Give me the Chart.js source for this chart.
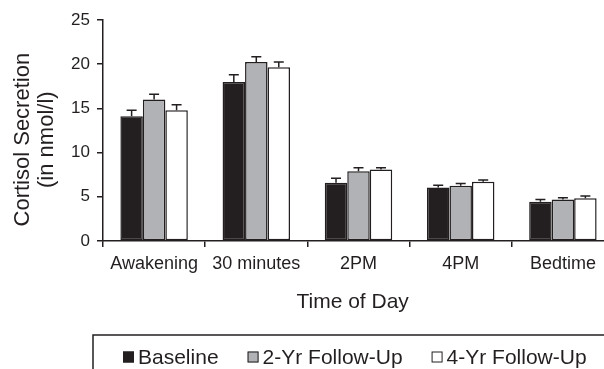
<!DOCTYPE html>
<html>
<head>
<meta charset="utf-8">
<script src="https://cdn.jsdelivr.net/npm/chart.js@4/dist/chart.umd.min.js"></script>
<style>
  html, body { margin: 0; padding: 0; background: #fff; overflow: hidden; }
  #wrap { position: relative; width: 625px; height: 369px; }
</style>
</head>
<body>
<div id="wrap"><canvas id="myChart"></canvas></div>
<script>
const categories = ["Awakening", "30 minutes", "2PM", "4PM", "Bedtime"];
const seriesNames = ["Baseline", "2-Yr Follow-Up", "4-Yr Follow-Up"];
const baseline = [14.1, 18.0, 6.6, 6.05, 4.45];
const followUp2 = [16.0, 20.25, 7.9, 6.25, 4.7];
const followUp4 = [14.8, 19.65, 8.1, 6.7, 4.85];
// upper error bar lengths
const baselineErr = [0.7, 0.8, 0.5, 0.25, 0.25];
const followUp2Err = [0.6, 0.6, 0.4, 0.25, 0.2];
const followUp4Err = [0.6, 0.6, 0.2, 0.2, 0.25];
const yTicks = [0, 5, 10, 15, 20, 25];

const ink = "#231f20";
const fills = [ink, "#b1b2b5", "#ffffff"];
const errs = [baselineErr, followUp2Err, followUp4Err];

const errorBars = {
  id: "errorBars",
  afterDatasetsDraw: (chart) => {
    const ctx = chart.ctx;
    const y = chart.scales.y;
    ctx.save();
    ctx.strokeStyle = ink;
    ctx.lineWidth = 1.5;
    chart.data.datasets.forEach((ds, i) => {
      const meta = chart.getDatasetMeta(i);
      meta.data.forEach((bar, j) => {
        const top = y.getPixelForValue(ds.data[j] + errs[i][j]);
        ctx.beginPath();
        ctx.moveTo(bar.x, bar.y);
        ctx.lineTo(bar.x, top);
        ctx.moveTo(bar.x - 5, top);
        ctx.lineTo(bar.x + 5, top);
        ctx.stroke();
      });
    });
    ctx.restore();
  }
};

// legend drawn in a box under the axis title
const boxLegend = {
  id: "boxLegend",
  afterDraw: (chart) => {
    const ctx = chart.ctx;
    const area = chart.chartArea;
    const boxTop = area.bottom + 94;
    ctx.save();
    ctx.strokeStyle = ink;
    ctx.lineWidth = 1.5;
    ctx.strokeRect(area.left - 10, boxTop, 800, 200);
    ctx.font = "21px 'Liberation Sans', Arial, sans-serif";
    ctx.textBaseline = "middle";
    ctx.fillStyle = ink;
    let x = area.left + 20;
    const cy = boxTop + 22;
    chart.data.datasets.forEach((ds, i) => {
      ctx.fillStyle = fills[i];
      ctx.fillRect(x, cy - 5.5, 11, 11);
      ctx.lineWidth = 1;
      ctx.strokeRect(x + 0.5, cy - 5, 10, 10);
      ctx.fillStyle = ink;
      ctx.fillText(ds.label, x + 15, cy + 1);
      x += 15 + ctx.measureText(ds.label).width + 29;
    });
    ctx.restore();
  }
};

const mkSet = (label, data, i) => ({
  label, data,
  backgroundColor: fills[i],
  borderColor: ink,
  borderWidth: 1.5,
  borderSkipped: false,
  categoryPercentage: 0.66,
  barPercentage: 1.0
});

new Chart(document.getElementById("myChart"), {
  type: "bar",
  data: {
    labels: categories,
    datasets: [
      mkSet(seriesNames[0], baseline, 0),
      mkSet(seriesNames[1], followUp2, 1),
      mkSet(seriesNames[2], followUp4, 2)
    ]
  },
  options: {
    responsive: true,
    maintainAspectRatio: false,
    animation: false,
    layout: { padding: { top: 20, right: 11, bottom: 54, left: 0 } },
    plugins: { legend: { display: false }, tooltip: { enabled: false } },
    scales: {
      x: {
        afterFit: (s) => { s.height = 74; },
        border: { display: true, color: ink, width: 1.5 },
        grid: { display: true, drawOnChartArea: false, drawTicks: true, tickLength: 6, color: ink, lineWidth: 1.5, offset: true },
        ticks: { color: ink, padding: 6, font: { family: "'Liberation Sans', Arial, sans-serif", size: 18 } },
        title: {
          display: true, text: "Time of Day  ", color: ink,
          padding: { top: 0, bottom: 0 },
          font: { family: "'Liberation Sans', Arial, sans-serif", size: 21, lineHeight: 1.2 }
        }
      },
      y: {
        min: 0, max: 25,
        afterFit: (s) => { s.width = 103; },
        afterBuildTicks: (s) => { s.ticks = yTicks.map(v => ({ value: v })); },
        border: { display: true, color: ink, width: 1.5 },
        grid: { display: true, drawOnChartArea: false, drawTicks: true, tickLength: 6, color: ink, lineWidth: 1.5 },
        ticks: { color: ink, padding: 7, font: { family: "'Liberation Sans', Arial, sans-serif", size: 17 } },
        title: {
          display: true, text: ["Cortisol Secretion   ", "(in nmol/l)   "], color: ink,
          padding: { top: 11, bottom: 0 },
          font: { family: "'Liberation Sans', Arial, sans-serif", size: 22, lineHeight: 1.09 }
        }
      }
    }
  },
  plugins: [errorBars, boxLegend]
});
</script>
</body>
</html>
